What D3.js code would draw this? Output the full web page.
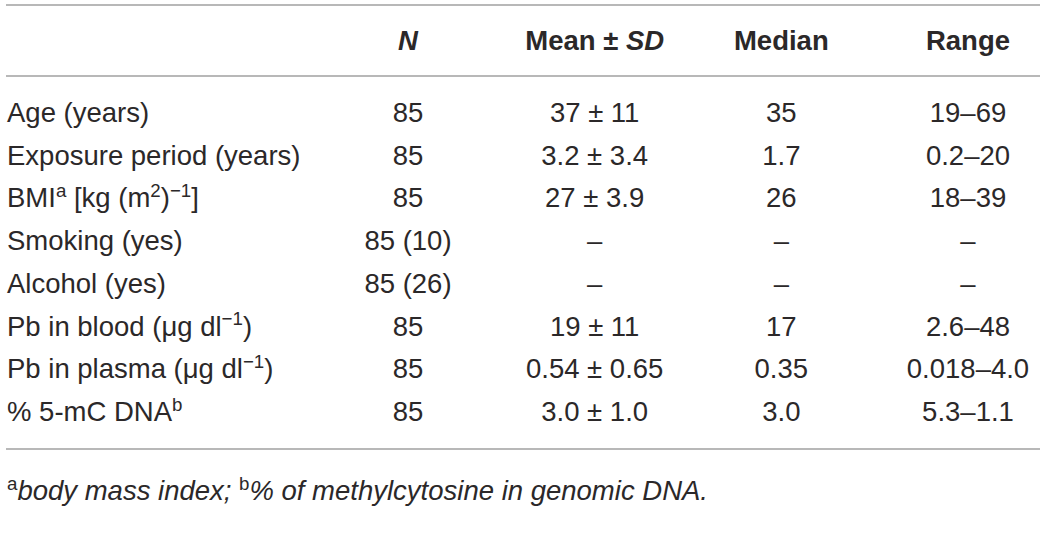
<!DOCTYPE html>
<html>
<head>
<meta charset="utf-8">
<script src="https://cdn.jsdelivr.net/npm/d3@7"></script>
<style>
  html, body { margin: 0; padding: 0; background: #fff; }
  svg text { font-family: "Liberation Sans", Arial, Helvetica, sans-serif; fill: #2b2829; }
</style>
</head>
<body>
<svg id="tbl" width="1040" height="533"></svg>
<script>
// table content; ^{..} marks a superscript, _{..} marks italics
const headers = ['', '_{N}', 'Mean ± _{SD}', 'Median', 'Range'];
const rowLabels = [
  'Age (years)',
  'Exposure period (years)',
  'BMI^{a} [kg (m^{2})^{−1}]',
  'Smoking (yes)',
  'Alcohol (yes)',
  'Pb in blood (μg dl^{−1})',
  'Pb in plasma (μg dl^{−1})',
  '% 5-mC DNA^{b}'
];
const nValues = ['85', '85', '85', '85 (10)', '85 (26)', '85', '85', '85'];
const meanSd = ['37 ± 11', '3.2 ± 3.4', '27 ± 3.9', '–', '–', '19 ± 11', '0.54 ± 0.65', '3.0 ± 1.0'];
const medians = ['35', '1.7', '26', '–', '–', '17', '0.35', '3.0'];
const ranges = ['19–69', '0.2–20', '18–39', '–', '–', '2.6–48', '0.018–4.0', '5.3–1.1'];
const footnote = '^{a}_{body mass index; }^{b}_{% of methylcytosine in genomic DNA.}';

const W = 1040, H = 533;
const fs = 27.5;
const svg = d3.select('#tbl');

// column centres (first column left aligned)
const colX = d3.scalePoint()
  .domain(d3.range(1, 5))
  .range([408, 968]);
const labelX = 7;

// row baselines
const rowY = d3.scalePoint()
  .domain(d3.range(rowLabels.length))
  .range([122, 421]);
const headerY = 50;

function parseRich(s) {
  const parts = [];
  const re = /(\^\{[^}]*\}|_\{[^}]*\})/g;
  let last = 0, m;
  while ((m = re.exec(s)) !== null) {
    if (m.index > last) parts.push({ t: s.slice(last, m.index), kind: 'n' });
    parts.push({ t: m[0].slice(2, -1), kind: m[0][0] == '^' ? 'sup' : 'it' });
    last = re.lastIndex;
  }
  if (last < s.length) parts.push({ t: s.slice(last), kind: 'n' });
  return parts;
}

function richText(g, s, x, y, anchor, weight, size) {
  const txt = g.append('text')
    .attr('x', x).attr('y', y)
    .attr('text-anchor', anchor)
    .attr('font-size', size)
    .attr('font-weight', weight);
  const lift = size * 0.38;
  let raised = false;
  parseRich(s).forEach(function(p) {
    const ts = txt.append('tspan').text(p.t);
    if (p.kind == 'it') ts.attr('font-style', 'italic');
    if (p.kind == 'sup') {
      ts.attr('font-size', size * 0.68);
      if (!raised) ts.attr('dy', -lift);
      raised = true;
    } else if (raised) {
      ts.attr('dy', lift);
      raised = false;
    }
  });
  return txt;
}

// rules
const rules = [5, 76, 449];
svg.selectAll('line.rule')
  .data(rules)
  .enter().append('line')
  .attr('class', 'rule')
  .attr('x1', 6).attr('x2', W)
  .attr('y1', d => d).attr('y2', d => d)
  .attr('stroke', '#a0a0a0')
  .attr('stroke-width', 1.6);

// header
const head = svg.append('g');
headers.forEach(function(h, i) {
  if (i == 0) return;
  richText(head, h, colX(i), headerY, 'middle', 'bold', fs);
});

// body rows
const body = svg.append('g');
const cols = [nValues, meanSd, medians, ranges];
rowLabels.forEach(function(lab, r) {
  richText(body, lab, labelX, rowY(r), 'start', 'normal', fs);
  cols.forEach(function(col, c) {
    richText(body, col[r], colX(c + 1), rowY(r), 'middle', 'normal', fs);
  });
});

// footnote
richText(svg.append('g'), footnote, labelX, 500, 'start', 'normal', fs);
</script>
</body>
</html>
